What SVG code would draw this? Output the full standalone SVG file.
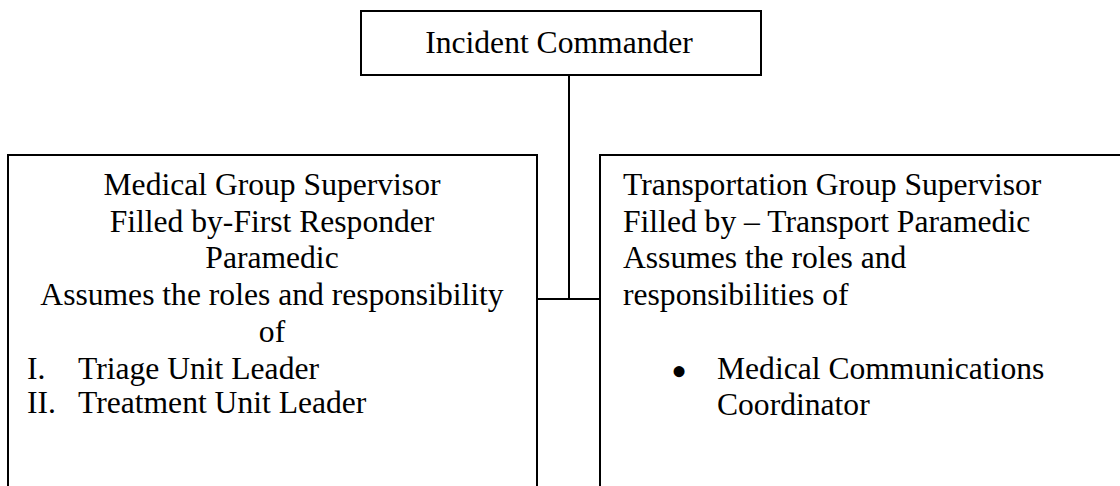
<svg xmlns="http://www.w3.org/2000/svg" width="1120" height="486" viewBox="0 0 1120 486">
<style>
.box{fill:#fff;stroke:#000;stroke-width:2}
.conn{fill:none;stroke:#000;stroke-width:2}
text{font-family:"Liberation Serif","Times New Roman",serif;font-size:31.6px;fill:#000}
.c{text-anchor:middle}
.bullet{font-size:46px}
</style>
<rect width="1120" height="486" fill="#fff"/>
<g id="connectors">
<path class="conn" d="M569 75 V299"/>
<path class="conn" d="M537 299 H600"/>
</g>
<g id="incident-commander">
<rect class="box" x="361" y="11" width="400" height="64"/>
<text class="c" x="559" y="52.7">Incident Commander</text>
</g>
<g id="medical-group-supervisor">
<rect class="box" x="8" y="155" width="529" height="345"/>
<text class="c" x="272" y="195">Medical Group Supervisor</text>
<text class="c" x="272" y="231.7">Filled by-First Responder</text>
<text class="c" x="272" y="268.4">Paramedic</text>
<text class="c" x="272" y="305">Assumes the roles and responsibility</text>
<text class="c" x="272" y="341.7">of</text>
<text x="27" y="379">I.</text>
<text x="78" y="379">Triage Unit Leader</text>
<text x="27" y="413">II.</text>
<text x="78" y="413">Treatment Unit Leader</text>
</g>
<g id="transportation-group-supervisor">
<rect class="box" x="600" y="155" width="530" height="345"/>
<text x="623" y="195">Transportation Group Supervisor</text>
<text x="623" y="231.7">Filled by – Transport Paramedic</text>
<text x="623" y="268.4">Assumes the roles and</text>
<text x="623" y="305">responsibilities of</text>
<text class="bullet" x="671" y="387">•</text>
<text x="717" y="379">Medical Communications</text>
<text x="717" y="415">Coordinator</text>
</g>
</svg>
